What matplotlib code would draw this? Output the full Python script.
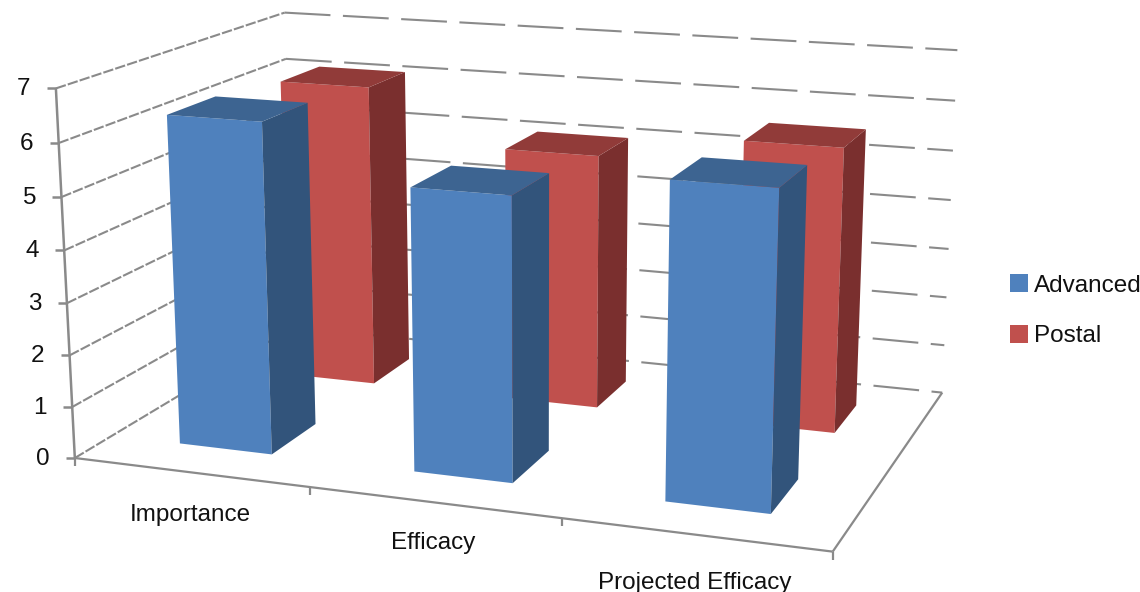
import numpy as np
import matplotlib
matplotlib.use("Agg")
import matplotlib.pyplot as plt
from matplotlib.collections import PolyCollection, LineCollection
from matplotlib.patches import Patch

categories = ["Importance", "Efficacy", "Projected Efficacy"]
series_names = ["Advanced", "Postal"]
advanced = [6.35, 5.35, 5.85]
postal = [6.15, 5.1, 5.6]
y_ticks = [0, 1, 2, 3, 4, 5, 6, 7]

# Scene box: x = category position, y = depth, z = value.
# Eight box locations and where they land on the canvas define the camera.
box_pts = np.array([[0, 0, 0], [0, 0, 7], [0, 1, 0], [0, 1, 7],
                    [3, 1, 0], [3, 1, 7], [3, 0, 0], [0, 0, 3.5], [3, 1, 3.5]], float)
canvas_pts = np.array([[75, 457], [56, 89], [293, 328], [285, 12],
                       [942, 392], [957, 50], [833, 552], [65, 277], [950, 225]], float)


def solve_camera(world, canvas):
    rows, rhs = [], []
    for (X, Y, Z), (u, v) in zip(world, canvas):
        rows.append([X, Y, Z, 1, 0, 0, 0, 0, -u * X, -u * Y, -u * Z])
        rhs.append(u)
        rows.append([0, 0, 0, 0, X, Y, Z, 1, -v * X, -v * Y, -v * Z])
        rhs.append(v)
    sol = np.linalg.lstsq(np.array(rows), np.array(rhs), rcond=None)[0]
    return np.append(sol, 1).reshape(3, 4)


CAM = solve_camera(box_pts, canvas_pts)


def proj(X, Y, Z):
    q = CAM @ np.array([X, Y, Z, 1.0])
    return q[:2] / q[2]


def column_faces(x0, x1, y0, y1, h):
    front = [proj(x0, y0, 0), proj(x1, y0, 0), proj(x1, y0, h), proj(x0, y0, h)]
    side = [proj(x1, y0, 0), proj(x1, y1, 0), proj(x1, y1, h), proj(x1, y0, h)]
    top = [proj(x0, y0, h), proj(x1, y0, h), proj(x1, y1, h), proj(x0, y1, h)]
    return front, side, top


BLUE = ("#4F81BD", "#32547B", "#3D6491")
RED = ("#C0504D", "#7A2F2E", "#913B39")
GRID = "#8A8A8A"
TEXT_FONT = "Liberation Sans"
FS = 17.5
LABEL_DROP = [43, 41, 48]

fig = plt.figure(figsize=(11.4, 5.92), dpi=100)
ax = fig.add_axes([0, 0, 1, 1])
ax.set_xlim(0, 1140)
ax.set_ylim(592, 0)
ax.axis("off")

# Gridlines on the side wall and the back wall.
for t in y_ticks:
    side_line = [proj(0, 0, t), proj(0, 1, t)]
    back_line = [proj(0, 1, t), proj(3, 1, t)]
    ax.add_collection(LineCollection([side_line], colors=GRID, linewidths=1.5,
                                     linestyles=[(0, (5, 1))], zorder=1))
    ax.add_collection(LineCollection([back_line], colors=GRID, linewidths=1.5,
                                     linestyles=[(0, (22, 6))], zorder=1))

# Floor edges.
floor_edges = [[proj(0, 0, 0), proj(3, 0, 0)], [proj(3, 0, 0), proj(3, 1, 0)]]
ax.add_collection(LineCollection(floor_edges, colors=GRID, linewidths=1.6, zorder=1))

# Value axis with ticks and labels.
ax.add_collection(LineCollection([[proj(0, 0, 0), proj(0, 0, 7)]], colors=GRID,
                                 linewidths=1.8, zorder=1))
for t in y_ticks:
    px = proj(0, 0, t)
    ax.add_collection(LineCollection([[px - [9, 0], px]], colors=GRID,
                                     linewidths=1.8, zorder=1))
    ax.text(px[0] - 32, px[1] + 1, str(t), ha="center", va="center",
            fontsize=FS, family=TEXT_FONT, color="#111111")

# Category ticks and labels.
for i in range(len(categories) + 1):
    px = proj(i, 0, 0)
    ax.add_collection(LineCollection([[px, px + [0, 8]]], colors=GRID,
                                     linewidths=1.6, zorder=1))
for i, name in enumerate(categories):
    px = proj(i + 0.5, 0, 0)
    ax.text(px[0], px[1] + LABEL_DROP[i], name, ha="center", va="center",
            fontsize=FS, family=TEXT_FONT, color="#111111")

# Columns: the rear series first, then the front one, so nearer faces cover farther ones.
order = 2
for values, depth, cols in ((postal, (0.655, 0.85), RED), (advanced, (0.15, 0.355), BLUE)):
    for i, h in enumerate(values):
        faces = column_faces(i + 0.3, i + 0.7, depth[0], depth[1], h)
        ax.add_collection(PolyCollection(faces, facecolors=[cols[0], cols[1], cols[2]],
                                         edgecolors="none", zorder=order))
        order += 1

# Legend, placed by its own box in canvas coordinates.
handles = [Patch(facecolor=BLUE[0], label=series_names[0]),
           Patch(facecolor=RED[0], label=series_names[1])]
ax.legend(handles=handles, loc="upper left", bbox_to_anchor=(1010, 274),
          bbox_transform=ax.transData, frameon=False,
          prop={"family": TEXT_FONT, "size": FS}, labelcolor="#111111",
          handlelength=0.72, handleheight=0.78, handletextpad=0.25,
          labelspacing=1.15, borderpad=0, borderaxespad=0)

fig.savefig("out.png", dpi=100)
